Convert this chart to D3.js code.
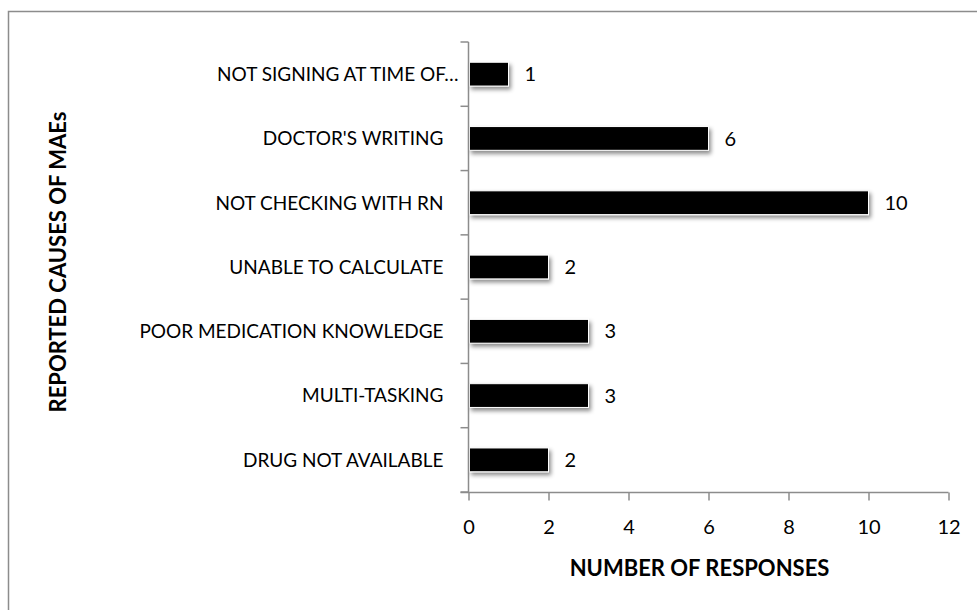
<!DOCTYPE html>
<html><head><meta charset="utf-8">
<script src="https://cdn.jsdelivr.net/npm/d3@7/dist/d3.min.js"></script>
<style>body{margin:0;background:#fff}svg{display:block}text{font-family:Lato,sans-serif;fill:#000}</style>
</head><body>
<svg id="c" width="977" height="610"></svg>
<script>
const categories = ["NOT SIGNING AT TIME OF…","DOCTOR'S WRITING","NOT CHECKING WITH RN","UNABLE TO CALCULATE","POOR MEDICATION KNOWLEDGE","MULTI-TASKING","DRUG NOT AVAILABLE"];
const values = [1,6,10,2,3,3,2];
const xTicks = [0,2,4,6,8,10,12];
const xTitle = "NUMBER OF RESPONSES";
const yTitle = "REPORTED CAUSES OF MAEs";

const svg = d3.select("#c");
svg.append("rect").attr("x",8.5).attr("y",11.5).attr("width",990).attr("height",620)
  .attr("fill","#fff").attr("stroke","#8c8c8c").attr("stroke-width",1.5);

const defs = svg.append("defs");
const f = defs.append("filter").attr("id","sh").attr("x","-10%").attr("y","-40%").attr("width","130%").attr("height","200%");
f.append("feDropShadow").attr("dx",2).attr("dy",3).attr("stdDeviation",2).attr("flood-color","#000").attr("flood-opacity",0.45);

const x = d3.scaleLinear().domain([0,12]).range([468.5,948.5]);
const y = d3.scaleBand().domain(categories).range([42,492]).paddingInner(0.63).paddingOuter(0.315);

const g = svg.append("g");
g.selectAll("rect.bar").data(values).join("rect").attr("class","bar")
  .attr("x",x(0)+1).attr("y",(d,i)=>y(categories[i]))
  .attr("width",d=>x(d)-x(0)-1).attr("height",y.bandwidth())
  .attr("fill","#000").attr("stroke","#fff").attr("stroke-width",1).attr("filter","url(#sh)");

g.selectAll("text.val").data(values).join("text").attr("class","val")
  .attr("x",d=>x(d)+16).attr("y",(d,i)=>y(categories[i])+y.bandwidth()/2)
  .attr("dy","0.36em").attr("font-size",20).text(d=>d);

// x axis
const xa = svg.append("g").attr("transform","translate(0,492.5)")
  .call(d3.axisBottom(x).tickValues(xTicks).tickSize(8).tickPadding(19).tickFormat(d3.format("d")));
xa.select(".domain").attr("stroke","#8c8c8c").attr("stroke-width",1.5).attr("d",`M${x(0)-8},0H${x(12)}`);
xa.selectAll(".tick line").attr("stroke","#8c8c8c").attr("stroke-width",1.5);
xa.selectAll(".tick text").attr("font-size",20).attr("font-family","Lato,sans-serif").attr("fill","#000");

// y axis
const bandEdges = categories.map(c=>y(c)-y.step()*y.paddingInner()/2).concat([492]);
const ya = svg.append("g").attr("transform",`translate(${x(0)},0)`);
ya.append("line").attr("y1",42).attr("y2",492).attr("stroke","#8c8c8c").attr("stroke-width",1.5);
ya.selectAll("line.t").data(bandEdges).join("line").attr("class","t")
  .attr("x1",-8).attr("x2",0).attr("y1",d=>d).attr("y2",d=>d).attr("stroke","#8c8c8c").attr("stroke-width",1.5);
ya.selectAll("text").data(categories).join("text")
  .attr("x",d=>d.endsWith("…")?-10:-25).attr("y",d=>y(d)+y.bandwidth()/2).attr("dy","0.36em")
  .attr("text-anchor","end").attr("font-size",19).text(d=>d);

svg.append("text").attr("x",(x(0)+x(12))/2-9).attr("y",576).attr("text-anchor","middle")
  .attr("font-size",22).attr("font-weight","bold").text(xTitle);
svg.append("text").attr("transform",`translate(66,${(42+492)/2-5}) rotate(-90)`).attr("text-anchor","middle")
  .attr("font-size",22).attr("font-weight","bold").text(yTitle);
</script>
</body></html>
